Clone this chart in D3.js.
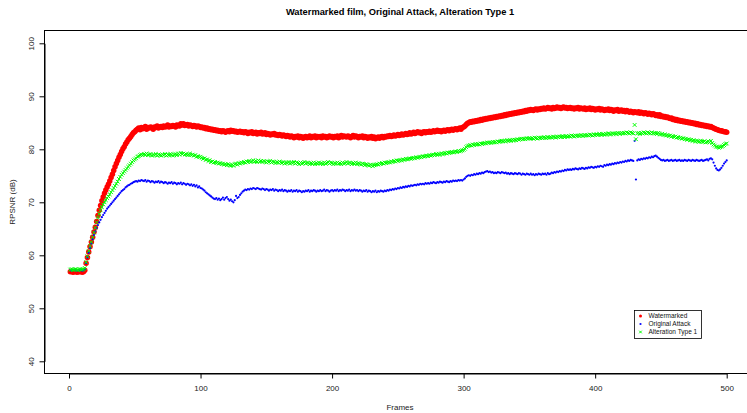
<!DOCTYPE html>
<html>
<head>
<meta charset="utf-8">
<script src="https://cdn.jsdelivr.net/npm/d3@7"></script>
<style>
  html, body { margin: 0; padding: 0; background: #fff; }
  svg { display: block; font-family: "Liberation Sans", Arial, Helvetica, sans-serif; }
</style>
</head>
<body>
<svg id="chart" width="747" height="413"></svg>
<script>
// RPSNR (dB) per frame, frames 1..500
const watermarked = [
  56.9, 57.0, 56.8, 56.9, 57.0, 56.8, 56.9, 56.9, 57.0, 56.8,
  56.9, 57.2, 58.5, 59.6, 60.6, 61.6, 62.5, 63.4, 64.4, 65.3,
  66.4, 67.5, 68.5, 69.4, 70.3, 71.0, 71.7, 72.3, 72.9, 73.4,
  74.0, 74.7, 75.3, 76.0, 76.7, 77.3, 77.9, 78.5, 79.0, 79.6,
  80.1, 80.5, 81.0, 81.4, 81.8, 82.1, 82.4, 82.8, 83.1, 83.3,
  83.6, 83.8, 84.0, 83.7, 84.1, 83.9, 84.0, 84.3, 83.8, 84.1,
  84.0, 84.2, 84.1, 83.8, 84.2, 84.1, 84.4, 84.0, 84.2, 84.3,
  84.1, 84.4, 84.2, 84.3, 84.6, 84.2, 84.4, 84.3, 84.5, 84.4,
  84.2, 84.6, 84.5, 84.4, 84.8, 84.6, 84.8, 84.5, 84.6, 84.7,
  84.4, 84.6, 84.5, 84.3, 84.5, 84.4, 84.2, 84.4, 84.3, 84.1,
  84.2, 84.0, 84.1, 83.9, 84.0, 83.8, 83.9, 83.7, 83.8, 83.6,
  83.7, 83.5, 83.6, 83.4, 83.5, 83.3, 83.5, 83.4, 83.2, 83.4,
  83.5, 83.3, 83.6, 83.4, 83.5, 83.3, 83.4, 83.2, 83.3, 83.4,
  83.2, 83.3, 83.1, 83.3, 83.2, 83.0, 83.2, 83.1, 83.3, 83.0,
  83.1, 83.2, 82.9, 83.1, 83.0, 83.2, 82.9, 83.0, 83.1, 82.8,
  83.0, 82.9, 82.7, 82.9, 82.8, 83.0, 82.7, 82.8, 82.6, 82.8,
  82.7, 82.5, 82.7, 82.6, 82.4, 82.6, 82.5, 82.3, 82.5, 82.4,
  82.2, 82.4, 82.3, 82.5, 82.2, 82.4, 82.3, 82.1, 82.3, 82.4,
  82.2, 82.3, 82.5, 82.2, 82.4, 82.3, 82.5, 82.2, 82.4, 82.3,
  82.4, 82.2, 82.5, 82.3, 82.4, 82.2, 82.3, 82.5, 82.3, 82.4,
  82.2, 82.4, 82.3, 82.5, 82.2, 82.4, 82.6, 82.3, 82.5, 82.4,
  82.3, 82.5, 82.4, 82.2, 82.4, 82.6, 82.3, 82.5, 82.4, 82.2,
  82.4, 82.3, 82.5, 82.2, 82.4, 82.3, 82.1, 82.3, 82.2, 82.4,
  82.1, 82.3, 82.0, 82.2, 82.3, 82.1, 82.3, 82.4, 82.2, 82.4,
  82.3, 82.5, 82.4, 82.6, 82.4, 82.5, 82.7, 82.5, 82.6, 82.8,
  82.6, 82.7, 82.9, 82.7, 82.8, 83.0, 82.8, 82.9, 83.1, 82.9,
  83.0, 83.2, 83.0, 83.1, 83.3, 83.1, 83.2, 83.0, 83.2, 83.3,
  83.1, 83.3, 83.2, 83.4, 83.2, 83.3, 83.5, 83.3, 83.4, 83.6,
  83.4, 83.5, 83.3, 83.5, 83.6, 83.4, 83.6, 83.7, 83.5, 83.7,
  83.8, 83.6, 83.8, 83.9, 83.7, 83.9, 84.0, 83.8, 84.1, 84.2,
  84.4, 84.7, 84.9, 85.0, 85.2, 85.1, 85.3, 85.2, 85.4, 85.3,
  85.5, 85.4, 85.6, 85.5, 85.7, 85.6, 85.8, 85.7, 85.9, 85.8,
  86.0, 85.9, 86.1, 86.0, 86.2, 86.1, 86.3, 86.2, 86.4, 86.3,
  86.5, 86.4, 86.6, 86.5, 86.7, 86.6, 86.8, 86.7, 86.9, 86.8,
  87.0, 86.9, 87.1, 87.0, 87.2, 87.1, 87.3, 87.2, 87.4, 87.3,
  87.5, 87.4, 87.3, 87.5, 87.6, 87.4, 87.6, 87.5, 87.7, 87.6,
  87.8, 87.6, 87.7, 87.9, 87.7, 87.8, 87.6, 87.9, 87.7, 87.8,
  88.0, 87.8, 87.9, 87.7, 87.9, 88.0, 87.8, 87.9, 87.7, 87.8,
  87.9, 87.7, 87.8, 87.6, 87.8, 87.7, 87.9, 87.6, 87.8, 87.7,
  87.6, 87.8, 87.5, 87.7, 87.6, 87.8, 87.5, 87.7, 87.6, 87.4,
  87.6, 87.5, 87.7, 87.4, 87.6, 87.5, 87.3, 87.5, 87.4, 87.6,
  87.3, 87.5, 87.4, 87.2, 87.4, 87.3, 87.5, 87.2, 87.3, 87.4,
  87.2, 87.3, 87.1, 87.3, 87.2, 87.0, 87.2, 87.1, 86.9, 87.1,
  87.0, 86.9, 87.1, 86.8, 87.0, 86.9, 86.7, 86.9, 86.8, 86.6,
  86.8, 86.7, 86.5, 86.7, 86.6, 86.4, 86.5, 86.3, 86.5, 86.2,
  86.3, 86.1, 86.2, 86.0, 86.1, 85.9, 85.8, 85.9, 85.6, 85.7,
  85.5, 85.6, 85.4, 85.5, 85.3, 85.4, 85.2, 85.3, 85.1, 85.2,
  85.0, 85.1, 84.9, 85.0, 84.8, 84.9, 84.7, 84.8, 84.6, 84.7,
  84.5, 84.6, 84.4, 84.5, 84.3, 84.4, 84.2, 84.3, 84.1, 84.0,
  83.9, 83.8, 83.7, 83.6, 83.5, 83.5, 83.4, 83.3, 83.3, 83.2
];

const originalAttack = [
  57.2, 57.1, 57.2, 57.3, 57.2, 57.1, 57.2, 57.2, 57.3, 57.1,
  57.2, 57.4, 58.5, 59.6, 60.5, 61.4, 62.2, 63.0, 63.8, 64.5,
  65.1, 65.7, 66.2, 66.7, 67.2, 67.6, 68.0, 68.4, 68.8, 69.1,
  69.4, 69.7, 70.0, 70.3, 70.6, 70.9, 71.2, 71.5, 71.8, 72.1,
  72.3, 72.5, 72.8, 73.0, 73.2, 73.3, 73.5, 73.6, 73.8, 73.9,
  74.0, 73.9, 74.1, 74.0, 74.2, 74.1, 74.0, 74.2, 73.9, 74.1,
  74.0, 73.8, 74.0, 73.9, 73.7, 73.9, 73.8, 74.0, 73.7, 73.9,
  73.8, 73.6, 73.8, 73.7, 73.5, 73.7, 73.6, 73.8, 73.5, 73.7,
  73.6, 73.4, 73.6, 73.5, 73.7, 73.4, 73.6, 73.5, 73.3, 73.5,
  73.4, 73.2, 73.4, 73.1, 73.3, 73.0, 73.2, 72.8, 73.0, 72.7,
  72.6, 72.4, 72.2, 71.9, 71.7, 71.5, 71.3, 71.1, 70.9, 70.7,
  70.6, 70.8, 70.5, 70.7, 70.4, 70.6, 70.9, 70.5, 70.8, 71.0,
  70.6, 70.3, 70.5, 70.2, 70.0, 70.4, 71.2, 70.8, 71.0, 71.4,
  71.7, 72.0, 72.2, 72.4, 72.3, 72.5, 72.4, 72.6, 72.5, 72.7,
  72.6, 72.5, 72.7, 72.6, 72.5, 72.4, 72.6, 72.5, 72.3, 72.5,
  72.4, 72.2, 72.4, 72.3, 72.5, 72.2, 72.4, 72.3, 72.1, 72.3,
  72.2, 72.4, 72.1, 72.3, 72.2, 72.0, 72.2, 72.1, 72.3, 72.0,
  72.2, 72.1, 72.3, 72.0, 72.2, 72.1, 71.9, 72.1, 72.0, 72.2,
  72.1, 72.3, 72.0, 72.2, 72.1, 72.3, 72.2, 72.0, 72.2, 72.1,
  72.3, 72.1, 72.2, 72.4, 72.1, 72.3, 72.2, 72.0, 72.2, 72.3,
  72.1, 72.3, 72.2, 72.4, 72.1, 72.3, 72.2, 72.4, 72.3, 72.1,
  72.3, 72.2, 72.4, 72.1, 72.3, 72.2, 72.4, 72.2, 72.3, 72.1,
  72.3, 72.2, 72.0, 72.2, 72.1, 72.3, 72.0, 72.2, 72.1, 71.9,
  72.1, 72.0, 72.2, 71.9, 72.1, 72.0, 72.2, 72.1, 72.0, 72.2,
  72.1, 72.3, 72.2, 72.4, 72.3, 72.5, 72.4, 72.6, 72.5, 72.7,
  72.6, 72.8, 72.7, 72.9, 72.8, 73.0, 72.9, 73.1, 73.0, 73.2,
  73.1, 73.2, 73.3, 73.2, 73.4, 73.3, 73.5, 73.4, 73.5, 73.4,
  73.6, 73.5, 73.6, 73.5, 73.7, 73.6, 73.8, 73.7, 73.6, 73.8,
  73.7, 73.9, 73.8, 73.7, 73.9, 73.8, 74.0, 73.9, 73.8, 74.0,
  73.9, 74.1, 74.0, 74.1, 74.0, 74.2, 74.1, 74.2, 74.1, 74.3,
  74.5, 74.8, 75.0, 75.1, 75.0, 75.2, 75.1, 75.3, 75.2, 75.4,
  75.3, 75.5, 75.4, 75.6, 75.5, 75.7, 75.8, 75.9, 75.7, 75.8,
  75.6, 75.7, 75.5, 75.6, 75.5, 75.7, 75.6, 75.5, 75.7, 75.6,
  75.5, 75.6, 75.4, 75.5, 75.3, 75.5, 75.4, 75.3, 75.5, 75.4,
  75.3, 75.5, 75.4, 75.2, 75.4, 75.3, 75.2, 75.4, 75.3, 75.2,
  75.4, 75.2, 75.3, 75.1, 75.3, 75.2, 75.4, 75.3, 75.2, 75.4,
  75.3, 75.4, 75.2, 75.5, 75.3, 75.4, 75.6, 75.5, 75.7, 75.6,
  75.8, 75.7, 75.9, 75.8, 76.0, 75.9, 76.1, 76.0, 76.2, 76.1,
  76.2, 76.1, 76.3, 76.2, 76.4, 76.3, 76.2, 76.4, 76.3, 76.5,
  76.4, 76.3, 76.5, 76.4, 76.6, 76.5, 76.7, 76.6, 76.5, 76.7,
  76.6, 76.8, 76.7, 76.9, 76.8, 76.7, 77.0, 76.9, 77.1, 77.0,
  77.2, 77.1, 77.3, 77.2, 77.4, 77.3, 77.5, 77.4, 77.6, 77.5,
  77.7, 77.6, 77.8, 77.7, 77.9, 77.8, 78.0, 77.9, 77.8, 81.6,
  74.3, 77.9, 78.1, 78.0, 78.2, 78.1, 78.3, 78.2, 78.4, 78.3,
  78.5, 78.4, 78.6, 78.5, 78.7, 78.8, 78.6, 78.4, 78.2, 78.0,
  77.9, 78.0, 77.8, 77.9, 78.0, 77.8, 77.9, 78.0, 77.8, 77.9,
  78.0, 77.8, 77.9, 78.0, 77.8, 77.9, 77.8, 78.0, 77.9, 77.8,
  78.0, 77.9, 77.8, 78.0, 77.9, 77.8, 78.0, 77.9, 77.8, 77.9,
  78.0, 77.8, 77.9, 78.0, 78.1, 77.9, 78.2, 78.3, 78.1, 77.5,
  76.9, 76.4, 76.1, 76.0, 76.2, 76.5, 76.9, 77.3, 77.6, 77.9
];

const alterationType1 = [
  57.3, 57.4, 57.2, 57.3, 57.4, 57.3, 57.2, 57.4, 57.3, 57.3,
  57.4, 57.6, 58.7, 59.8, 60.8, 61.7, 62.5, 63.4, 64.3, 65.2,
  66.2, 67.1, 67.8, 68.5, 69.1, 69.6, 70.0, 70.4, 70.8, 71.1,
  71.5, 71.9, 72.3, 72.7, 73.1, 73.5, 73.9, 74.4, 74.8, 75.2,
  75.5, 75.8, 76.1, 76.4, 76.7, 77.0, 77.3, 77.6, 77.9, 78.1,
  78.3, 78.6, 78.7, 78.9, 79.0, 78.9, 79.1, 79.0, 79.2, 78.9,
  79.0, 79.1, 78.8, 79.0, 78.9, 79.1, 78.8, 79.0, 78.9, 78.8,
  79.0, 78.9, 79.1, 78.8, 79.0, 78.9, 79.1, 79.0, 78.8, 79.0,
  79.1, 78.9, 79.2, 79.0, 79.3, 79.1, 79.2, 79.0, 79.1, 78.9,
  79.0, 79.2, 78.9, 79.0, 78.8, 78.9, 78.6, 78.7, 78.5, 78.6,
  78.4, 78.2, 78.3, 78.0, 78.1, 77.8, 77.9, 77.6, 77.7, 77.5,
  77.6, 77.4, 77.5, 77.3, 77.4, 77.2, 77.3, 77.1, 77.2, 77.0,
  77.2, 77.0, 76.9, 77.1, 76.9, 77.2, 77.3, 77.1, 77.4, 77.3,
  77.5, 77.4, 77.6, 77.5, 77.7, 77.6, 77.8, 77.6, 77.7, 77.9,
  77.7, 77.8, 77.6, 77.9, 77.7, 77.8, 77.6, 77.8, 77.7, 77.5,
  77.7, 77.6, 77.8, 77.5, 77.7, 77.6, 77.4, 77.6, 77.5, 77.7,
  77.5, 77.4, 77.6, 77.3, 77.5, 77.4, 77.6, 77.3, 77.5, 77.4,
  77.6, 77.3, 77.5, 77.4, 77.2, 77.5, 77.3, 77.4, 77.6, 77.3,
  77.5, 77.4, 77.2, 77.4, 77.3, 77.5, 77.2, 77.4, 77.3, 77.5,
  77.3, 77.4, 77.2, 77.5, 77.3, 77.4, 77.6, 77.3, 77.5, 77.4,
  77.2, 77.4, 77.3, 77.5, 77.3, 77.4, 77.2, 77.5, 77.3, 77.4,
  77.6, 77.3, 77.5, 77.4, 77.2, 77.4, 77.3, 77.5, 77.2, 77.4,
  77.3, 77.1, 77.3, 77.2, 77.0, 77.2, 77.1, 76.9, 77.1, 77.0,
  76.8, 77.0, 77.1, 77.2, 77.1, 77.3, 77.2, 77.4, 77.3, 77.5,
  77.4, 77.5, 77.6, 77.5, 77.7, 77.6, 77.8, 77.7, 77.9, 77.8,
  77.9, 78.0, 77.9, 78.1, 78.0, 78.2, 78.1, 78.2, 78.3, 78.2,
  78.3, 78.4, 78.3, 78.5, 78.4, 78.5, 78.6, 78.5, 78.7, 78.6,
  78.7, 78.8, 78.7, 78.9, 78.8, 78.9, 79.0, 78.9, 79.1, 79.0,
  79.1, 79.0, 79.2, 79.1, 79.2, 79.3, 79.2, 79.4, 79.3, 79.4,
  79.5, 79.4, 79.5, 79.6, 79.5, 79.7, 79.6, 79.7, 79.8, 79.9,
  80.1, 80.4, 80.6, 80.7, 80.8, 80.7, 80.9, 80.8, 81.0, 80.9,
  81.0, 80.9, 81.1, 81.0, 81.1, 81.2, 81.1, 81.3, 81.2, 81.3,
  81.2, 81.4, 81.3, 81.4, 81.3, 81.5, 81.4, 81.5, 81.6, 81.5,
  81.6, 81.5, 81.7, 81.6, 81.7, 81.6, 81.8, 81.7, 81.8, 81.7,
  81.9, 81.8, 81.9, 82.0, 81.9, 82.0, 81.9, 82.1, 82.0, 82.1,
  82.0, 82.1, 82.0, 82.2, 82.1, 82.0, 82.2, 82.1, 82.2, 82.1,
  82.3, 82.2, 82.1, 82.3, 82.2, 82.3, 82.2, 82.4, 82.3, 82.2,
  82.4, 82.3, 82.4, 82.3, 82.5, 82.4, 82.3, 82.5, 82.4, 82.5,
  82.4, 82.6, 82.5, 82.4, 82.6, 82.5, 82.6, 82.5, 82.7, 82.6,
  82.5, 82.7, 82.6, 82.7, 82.6, 82.8, 82.7, 82.6, 82.8, 82.7,
  82.8, 82.7, 82.9, 82.8, 82.7, 82.9, 82.8, 82.9, 82.8, 83.0,
  82.9, 82.8, 83.0, 82.9, 83.0, 82.9, 83.1, 83.0, 82.9, 83.1,
  83.0, 83.1, 83.0, 83.2, 83.1, 83.0, 83.2, 83.1, 83.0, 84.6,
  81.9, 83.0, 83.1, 82.9, 83.1, 83.0, 83.2, 83.1, 83.0, 83.2,
  83.1, 83.0, 83.2, 83.0, 83.1, 83.0, 82.9, 83.1, 82.9, 82.8,
  82.9, 82.7, 82.8, 82.6, 82.7, 82.5, 82.6, 82.4, 82.5, 82.3,
  82.4, 82.2, 82.3, 82.1, 82.2, 82.0, 82.1, 81.9, 82.0, 81.8,
  81.9, 81.7, 81.8, 81.6, 81.7, 81.5, 81.6, 81.5, 81.4, 81.6,
  81.5, 81.4, 81.5, 81.3, 81.4, 81.5, 81.3, 81.6, 81.2, 80.9,
  80.7, 80.5, 80.4, 80.3, 80.4, 80.5, 80.6, 80.8, 81.0, 81.1
];

const frames = d3.range(1, watermarked.length + 1);
const xTicks = [0, 100, 200, 300, 400, 500];
const yTicks = [40, 50, 60, 70, 80, 90, 100];
const seriesNames = ["Watermarked", "Original Attack", "Alteration Type 1"];
const seriesColors = ["#ff0000", "#0000ff", "#00ff00"];

const svg = d3.select("#chart");

const x = d3.scaleLinear().domain([0, 500]).range([69, 726.7]);
const y = d3.scaleLinear().domain([40, 100]).range([361.3, 43.3]);

const plotLeft = 44.5, plotTop = 30.5, plotBottom = 373.5, plotRight = 756;

// plot frame
svg.append("rect")
  .attr("x", plotLeft).attr("y", plotTop)
  .attr("width", plotRight - plotLeft).attr("height", plotBottom - plotTop)
  .attr("fill", "none").attr("stroke", "#000").attr("stroke-width", 1);

// markers: red circles, blue dots, green crosses
const pts = arr => frames.map((f, i) => ({ f, v: arr[i] }));

svg.append("g").selectAll("circle")
  .data(pts(watermarked))
  .join("circle")
  .attr("cx", d => x(d.f)).attr("cy", d => y(d.v))
  .attr("r", 2.75).attr("fill", seriesColors[0]);

svg.append("g").selectAll("circle")
  .data(pts(originalAttack))
  .join("circle")
  .attr("cx", d => x(d.f)).attr("cy", d => y(d.v))
  .attr("r", 1.1).attr("fill", seriesColors[1]);

const cross = s => `M${-s},${-s}L${s},${s}M${-s},${s}L${s},${-s}`;
svg.append("g").selectAll("path")
  .data(pts(alterationType1))
  .join("path")
  .attr("transform", d => `translate(${x(d.f)},${y(d.v)})`)
  .attr("d", cross(1.85))
  .attr("stroke", seriesColors[2]).attr("stroke-width", 1).attr("fill", "none");

// axes
const xAxis = svg.append("g")
  .attr("transform", `translate(0,${plotBottom})`)
  .call(d3.axisBottom(x).tickValues(xTicks).tickSize(5).tickSizeOuter(0).tickPadding(7));
xAxis.selectAll("text").attr("font-size", 8).attr("fill", "#222").attr("font-family", null);

const yAxis = svg.append("g")
  .attr("transform", `translate(${plotLeft},0)`)
  .call(d3.axisLeft(y).tickValues(yTicks).tickSize(5).tickSizeOuter(0));
yAxis.selectAll("text")
  .attr("font-size", 8).attr("fill", "#222").attr("font-family", null)
  .attr("x", null).attr("dy", null)
  .attr("text-anchor", "middle")
  .attr("transform", "translate(-11,0) rotate(-90)");

svg.selectAll(".domain, .tick line").attr("stroke", "#000");

// title and axis titles
svg.append("text")
  .attr("x", 400).attr("y", 15)
  .attr("text-anchor", "middle").attr("font-size", 9.3).attr("font-weight", "bold")
  .text("Watermarked film, Original Attack, Alteration Type 1");

svg.append("text")
  .attr("x", 400).attr("y", 410)
  .attr("text-anchor", "middle").attr("font-size", 8).attr("fill", "#222")
  .text("Frames");

svg.append("text")
  .attr("transform", "translate(15,202) rotate(-90)")
  .attr("text-anchor", "middle").attr("font-size", 8).attr("fill", "#222")
  .text("RPSNR (dB)");

// legend
const legend = svg.append("g").attr("transform", "translate(634.5,310.5)");
legend.append("rect")
  .attr("width", 67).attr("height", 28)
  .attr("fill", "#fff").attr("stroke", "#000").attr("stroke-width", 0.8);

seriesNames.forEach((name, i) => {
  const row = legend.append("g").attr("transform", `translate(6,${5.5 + i * 8})`);
  if (i === 0) row.append("circle").attr("r", 1.5).attr("fill", seriesColors[0]);
  if (i === 1) row.append("rect").attr("x", -0.9).attr("y", -0.9).attr("width", 1.8).attr("height", 1.8).attr("fill", seriesColors[1]);
  if (i === 2) row.append("path").attr("d", cross(1.3)).attr("stroke", seriesColors[2]).attr("stroke-width", 1);
  row.append("text")
    .attr("x", 8).attr("y", 2.2)
    .attr("font-size", 6.5).attr("fill", "#111")
    .text(name);
});
</script>
</body>
</html>
